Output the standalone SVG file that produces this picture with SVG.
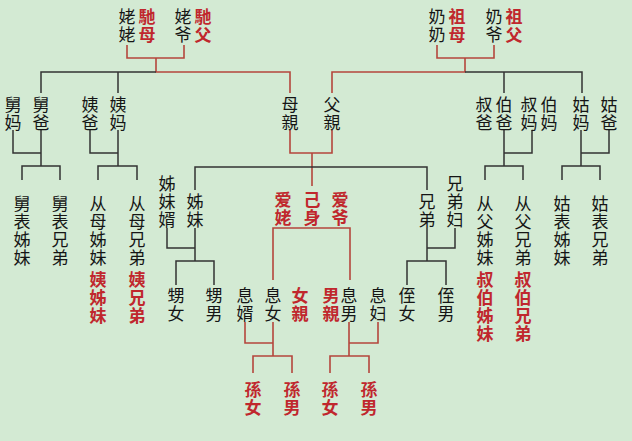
<svg xmlns="http://www.w3.org/2000/svg" width="632" height="441" viewBox="0 0 632 441">
<style>
text{font-family:"Noto Sans CJK SC","Noto Sans CJK TC",sans-serif;font-size:17px;text-anchor:middle;dominant-baseline:central;fill:#151515}
text.r{fill:#c0272d;font-weight:bold}
.k{stroke:#333;stroke-width:1.5;fill:none}
.d{stroke:#b5463c;stroke-width:1.6;fill:none}
</style>
<rect width="632" height="441" fill="#d3ead3"/>
<g id="connectors">
<path class="d" d="M127 45V58H184V45M156 58V72H290V93M290 130V153H332V130M312 153V186"/>
<path class="k" d="M156 72H41V93M118 72V93"/>
<path class="d" d="M437 45V58H494V45M465 58V72H332V93"/>
<path class="k" d="M465 72H582V93M504 72V93"/>
<path class="k" d="M13 130V153H41M41 130V166M22 180V166H60V180"/>
<path class="k" d="M90 130V153H118M118 130V166M98 180V166H137V180"/>
<path class="k" d="M532 130V153H504M504 130V166M485 180V166H523V180"/>
<path class="k" d="M609 130V153H581M581 130V166M562 180V166H600V180"/>
<path class="k" d="M195 190V167H427V190"/>
<path class="k" d="M167 228V248H195M195 228V261M176 285V261H214V285"/>
<path class="k" d="M455 228V248H427M427 228V261M407 285V261H446V285"/>
<path class="d" d="M273 280V228H350V280"/>
<path class="d" d="M245 322V343H273M273 322V356M253 373V356H292V373"/>
<path class="d" d="M378 322V343H349M349 322V356M330 373V356H369V373"/>
</g>
<g id="n-laolao"><text x="127" y="15"><tspan>姥</tspan><tspan x="127" dy="18">姥</tspan></text><text class="r" x="147" y="15"><tspan>馳</tspan><tspan x="147" dy="18">母</tspan></text></g>
<g id="n-laoye"><text x="183" y="15"><tspan>姥</tspan><tspan x="183" dy="18">爷</tspan></text><text class="r" x="203" y="15"><tspan>馳</tspan><tspan x="203" dy="18">父</tspan></text></g>
<g id="n-nainai"><text x="437" y="15"><tspan>奶</tspan><tspan x="437" dy="18">奶</tspan></text><text class="r" x="457" y="15"><tspan>祖</tspan><tspan x="457" dy="18">母</tspan></text></g>
<g id="n-naiye"><text x="494" y="15"><tspan>奶</tspan><tspan x="494" dy="18">爷</tspan></text><text class="r" x="514" y="15"><tspan>祖</tspan><tspan x="514" dy="18">父</tspan></text></g>
<g id="n-jiuma"><text x="13" y="103"><tspan>舅</tspan><tspan x="13" dy="18">妈</tspan></text></g>
<g id="n-jiuba"><text x="41" y="103"><tspan>舅</tspan><tspan x="41" dy="18">爸</tspan></text></g>
<g id="n-yiba"><text x="90" y="103"><tspan>姨</tspan><tspan x="90" dy="18">爸</tspan></text></g>
<g id="n-yima"><text x="118" y="103"><tspan>姨</tspan><tspan x="118" dy="18">妈</tspan></text></g>
<g id="n-muqin"><text x="290" y="103"><tspan>母</tspan><tspan x="290" dy="18">親</tspan></text></g>
<g id="n-fuqin"><text x="332" y="103"><tspan>父</tspan><tspan x="332" dy="18">親</tspan></text></g>
<g id="n-shuba"><text x="484" y="103"><tspan>叔</tspan><tspan x="484" dy="18">爸</tspan></text></g>
<g id="n-boba"><text x="504" y="103"><tspan>伯</tspan><tspan x="504" dy="18">爸</tspan></text></g>
<g id="n-shuma"><text x="529" y="103"><tspan>叔</tspan><tspan x="529" dy="18">妈</tspan></text></g>
<g id="n-boma"><text x="549" y="103"><tspan>伯</tspan><tspan x="549" dy="18">妈</tspan></text></g>
<g id="n-guma"><text x="581" y="103"><tspan>姑</tspan><tspan x="581" dy="18">妈</tspan></text></g>
<g id="n-guba"><text x="609" y="103"><tspan>姑</tspan><tspan x="609" dy="18">爸</tspan></text></g>
<g id="n-jbzm"><text x="22" y="202"><tspan>舅</tspan><tspan x="22" dy="18">表</tspan><tspan x="22" dy="18">姊</tspan><tspan x="22" dy="18">妹</tspan></text></g>
<g id="n-jbxd"><text x="60" y="202"><tspan>舅</tspan><tspan x="60" dy="18">表</tspan><tspan x="60" dy="18">兄</tspan><tspan x="60" dy="18">弟</tspan></text></g>
<g id="n-cmzm"><text x="98" y="202"><tspan>从</tspan><tspan x="98" dy="18">母</tspan><tspan x="98" dy="18">姊</tspan><tspan x="98" dy="18">妹</tspan></text><text class="r" x="98" y="278"><tspan>姨</tspan><tspan x="98" dy="18">姊</tspan><tspan x="98" dy="18">妹</tspan></text></g>
<g id="n-cmxd"><text x="137" y="202"><tspan>从</tspan><tspan x="137" dy="18">母</tspan><tspan x="137" dy="18">兄</tspan><tspan x="137" dy="18">弟</tspan></text><text class="r" x="137" y="278"><tspan>姨</tspan><tspan x="137" dy="18">兄</tspan><tspan x="137" dy="18">弟</tspan></text></g>
<g id="n-cfzm"><text x="485" y="202"><tspan>从</tspan><tspan x="485" dy="18">父</tspan><tspan x="485" dy="18">姊</tspan><tspan x="485" dy="18">妹</tspan></text><text class="r" x="485" y="278"><tspan>叔</tspan><tspan x="485" dy="18">伯</tspan><tspan x="485" dy="18">姊</tspan><tspan x="485" dy="18">妹</tspan></text></g>
<g id="n-cfxd"><text x="523" y="202"><tspan>从</tspan><tspan x="523" dy="18">父</tspan><tspan x="523" dy="18">兄</tspan><tspan x="523" dy="18">弟</tspan></text><text class="r" x="523" y="278"><tspan>叔</tspan><tspan x="523" dy="18">伯</tspan><tspan x="523" dy="18">兄</tspan><tspan x="523" dy="18">弟</tspan></text></g>
<g id="n-gbzm"><text x="562" y="202"><tspan>姑</tspan><tspan x="562" dy="18">表</tspan><tspan x="562" dy="18">姊</tspan><tspan x="562" dy="18">妹</tspan></text></g>
<g id="n-gbxd"><text x="600" y="202"><tspan>姑</tspan><tspan x="600" dy="18">表</tspan><tspan x="600" dy="18">兄</tspan><tspan x="600" dy="18">弟</tspan></text></g>
<g id="n-zmx"><text x="167" y="182"><tspan>姊</tspan><tspan x="167" dy="18">妹</tspan><tspan x="167" dy="18">婿</tspan></text></g>
<g id="n-zm"><text x="195" y="200"><tspan>姊</tspan><tspan x="195" dy="18">妹</tspan></text></g>
<g id="n-xd"><text x="427" y="200"><tspan>兄</tspan><tspan x="427" dy="18">弟</tspan></text></g>
<g id="n-xdf"><text x="455" y="182"><tspan>兄</tspan><tspan x="455" dy="18">弟</tspan><tspan x="455" dy="18">妇</tspan></text></g>
<g id="n-self"><text class="r" x="283" y="198"><tspan>爱</tspan><tspan x="283" dy="18">姥</tspan></text><text class="r" x="312" y="198"><tspan>己</tspan><tspan x="312" dy="18">身</tspan></text><text class="r" x="340" y="198"><tspan>爱</tspan><tspan x="340" dy="18">爷</tspan></text></g>
<g id="n-shengnv"><text x="176" y="294"><tspan>甥</tspan><tspan x="176" dy="18">女</tspan></text></g>
<g id="n-shengnan"><text x="214" y="294"><tspan>甥</tspan><tspan x="214" dy="18">男</tspan></text></g>
<g id="n-xixu"><text x="245" y="294"><tspan>息</tspan><tspan x="245" dy="18">婿</tspan></text></g>
<g id="n-xinv"><text x="273" y="294"><tspan>息</tspan><tspan x="273" dy="18">女</tspan></text><text class="r" x="300" y="294"><tspan>女</tspan><tspan x="300" dy="18">親</tspan></text></g>
<g id="n-xinan"><text class="r" x="331" y="294"><tspan>男</tspan><tspan x="331" dy="18">親</tspan></text><text x="349" y="294"><tspan>息</tspan><tspan x="349" dy="18">男</tspan></text></g>
<g id="n-xifu"><text x="378" y="294"><tspan>息</tspan><tspan x="378" dy="18">妇</tspan></text></g>
<g id="n-zhinv"><text x="407" y="294"><tspan>侄</tspan><tspan x="407" dy="18">女</tspan></text></g>
<g id="n-zhinan"><text x="446" y="294"><tspan>侄</tspan><tspan x="446" dy="18">男</tspan></text></g>
<g id="n-sunnv1"><text class="r" x="253" y="388"><tspan>孫</tspan><tspan x="253" dy="18">女</tspan></text></g>
<g id="n-sunnan1"><text class="r" x="292" y="388"><tspan>孫</tspan><tspan x="292" dy="18">男</tspan></text></g>
<g id="n-sunnv2"><text class="r" x="330" y="388"><tspan>孫</tspan><tspan x="330" dy="18">女</tspan></text></g>
<g id="n-sunnan2"><text class="r" x="369" y="388"><tspan>孫</tspan><tspan x="369" dy="18">男</tspan></text></g>
</svg>
